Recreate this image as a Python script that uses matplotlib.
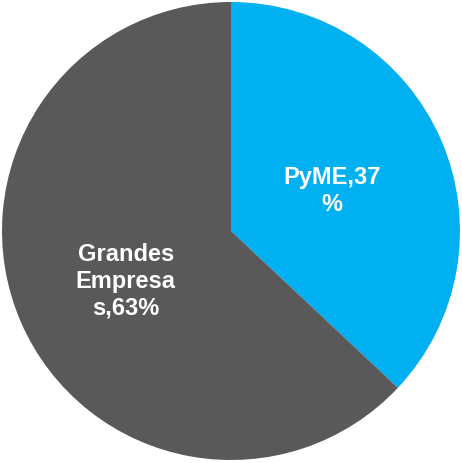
import matplotlib.pyplot as plt

plt.rcParams['font.family'] = ['Liberation Sans', 'DejaVu Sans']

labels = ['PyME,37\n%', 'Grandes\nEmpresa\ns,63%']
values = [37, 63]
colors = ['#00B0F0', '#595959']
label_pos = [(0.44, 0.175), (-0.46, -0.22)]

fig = plt.figure(figsize=(4.62, 4.63), dpi=100)
ax = fig.add_axes([0, 0, 1, 1])

wedges, _ = ax.pie(values, colors=colors, startangle=90, counterclock=False,
                   radius=1.0, wedgeprops=dict(linewidth=0))

for lab, (x, y) in zip(labels, label_pos):
    ax.text(x, y, lab, ha='center', va='center', multialignment='center',
            color='white', fontsize=17, fontweight='heavy', linespacing=1.2)

ax.set_xlim(-231 / 229, 231 / 229)
ax.set_ylim(-232 / 229, 231 / 229)
ax.set_aspect('equal')
ax.axis('off')

fig.savefig('out.png', dpi=100)
